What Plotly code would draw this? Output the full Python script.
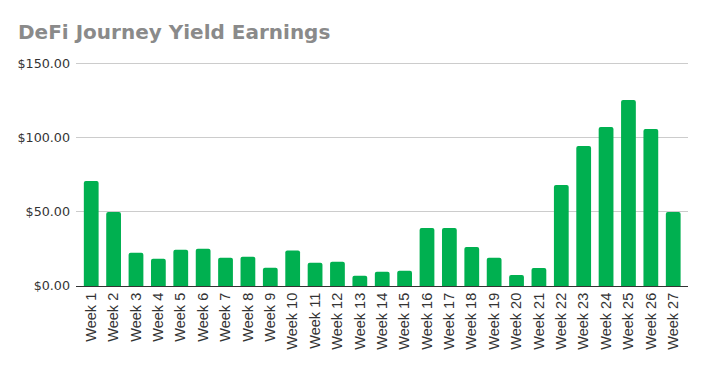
import plotly.graph_objects as go

weeks = [f"Week {i}" for i in range(1, 28)]
earnings = [70.9, 50.0, 22.5, 18.4, 24.5, 25.2, 19.1, 19.8, 12.4, 23.9, 15.7, 16.4, 7.0, 9.7,
            10.3, 39.2, 39.2, 26.4, 19.1, 7.4, 12.2, 68.2, 94.6, 107.4, 125.7, 106.1, 50.0]
y_ticks = [0, 50, 100, 150]
y_tick_labels = ["$0.00", "$50.00", "$100.00", "$150.00"]

fig = go.Figure(go.Bar(x=weeks, y=earnings, marker=dict(color="#00B050", line=dict(width=0))))

fig.update_layout(
    width=698, height=359,
    margin=dict(l=68, r=18, t=53, b=81, autoexpand=False),
    paper_bgcolor="white", plot_bgcolor="white",
    bargap=0.34,
    barcornerradius=2,
    showlegend=False,
    title=dict(text="<b>DeFi Journey Yield Earnings</b>", x=10 / 698, xanchor="left", y=1 - 24 / 359, yanchor="middle",
               font=dict(family="DejaVu Sans", size=20, color="#8a8a8a")),
    xaxis=dict(range=[-0.68, 26.66], tickangle=-90,
               tickfont=dict(family="Liberation Sans", size=14.5, color="#333333"),
               showline=True, linecolor="#333333", linewidth=1, showgrid=False, ticks="", automargin=False),
    yaxis=dict(range=[0, 152], tickvals=y_ticks, ticktext=y_tick_labels,
               tickfont=dict(family="DejaVu Sans", size=12.7, color="#333333"),
               showgrid=True, gridcolor="#cccccc", gridwidth=1, zeroline=False, ticks="", showline=False,
               ticklabelstandoff=5, automargin=False),
)
fig.write_html("out.html")
